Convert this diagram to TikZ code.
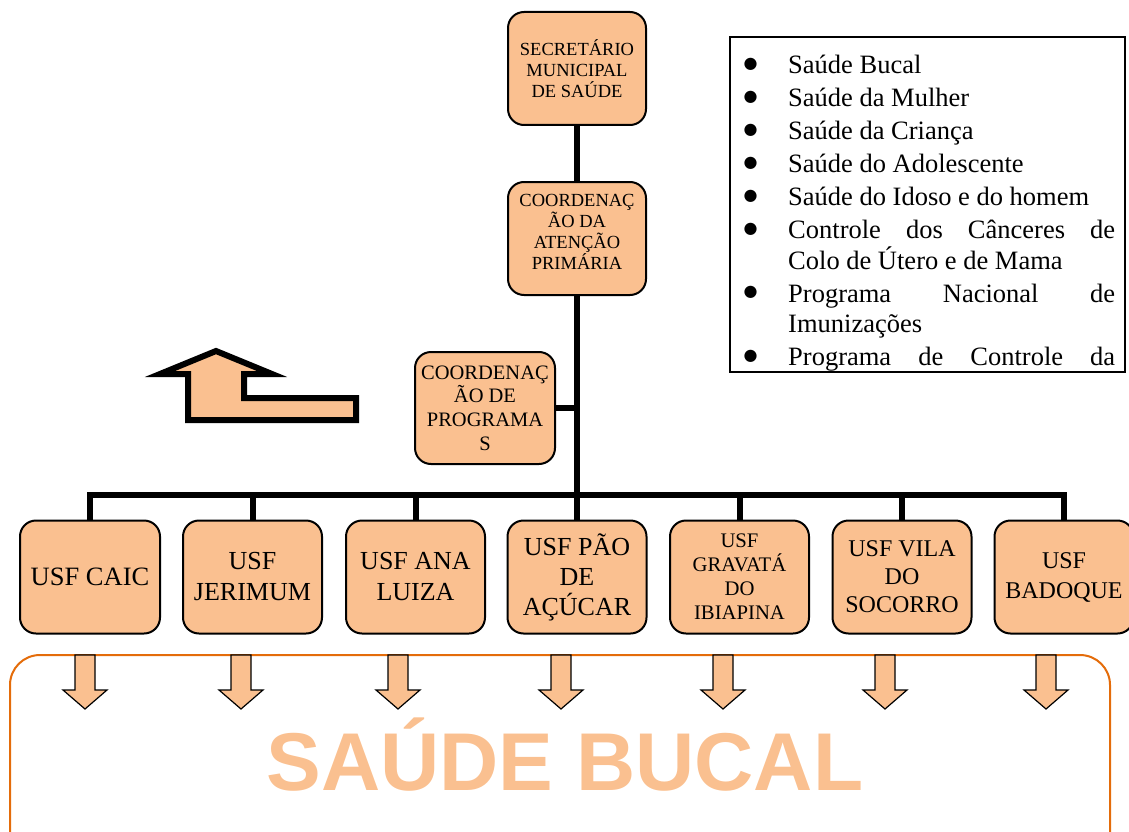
\documentclass[tikz,border=0pt]{standalone}
\usepackage{fontspec}
\setmainfont{Liberation Serif}
\newfontfamily\headfont{Liberation Sans}
\newfontfamily\symfont{DejaVu Sans}
\definecolor{peach}{HTML}{FAC090}
\definecolor{frameorange}{HTML}{E46C0A}
\newcommand\setfs[2]{\fontsize{#1}{#2}\selectfont}
\newcommand\itemdot{\makebox[41pt][l]{\kern-3.5pt\raisebox{5.5pt}{\symfont\fontsize{16}{16}\selectfont ●}}}
\tikzset{
  unitbox/.style={draw=black, line width=2pt, fill=peach, rounded corners=16pt,
    minimum width=138pt, minimum height=113pt, inner sep=1pt, align=center},
  link/.style={line width=6pt},
  downarrow/.style={draw=black, line width=1.2pt, fill=peach, line join=miter},
}
\begin{document}
\begin{tikzpicture}[x=1pt, y=-1pt]
\useasboundingbox (0,0) rectangle (1129,832);

% top of the hierarchy
\node[unitbox, font=\setfs{18.5}{21}] (sec) at (577,68.5)
  {SECRETÁRIO\\MUNICIPAL\\DE SAÚDE};
\node[unitbox] (coord) at (577,238.5) {};
\node[inner sep=0pt, align=center, font=\setfs{18.5}{21}] (coordtext) at ([yshift=7pt]coord.center)
  {COORDENAÇ\\ÃO DA\\ATENÇÃO\\PRIMÁRIA};
\node[unitbox, minimum width=140pt, minimum height=112pt, font=\setfs{20.5}{23.7}] (prog) at (485,408)
  {COORDENAÇ\\ÃO DE\\PROGRAMA\\S};

% family health units
\node[unitbox, minimum width=140pt, font=\setfs{26.5}{31}] (usf1) at (90,577) {USF CAIC};
\node[unitbox, minimum width=139pt, font=\setfs{26}{31}] (usf2) at (252.5,577) {USF\\JERIMUM};
\node[unitbox, minimum width=139pt, font=\setfs{26}{31}] (usf3) at (415.5,577) {USF ANA\\LUIZA};
\node[unitbox, minimum width=139pt, font=\setfs{26}{30}] (usf4) at (577,577) {USF PÃO\\DE\\AÇÚCAR};
\node[unitbox, minimum width=139pt, font=\setfs{20.7}{24}] (usf5) at (739.5,577) {USF\\GRAVATÁ\\DO\\IBIAPINA};
\node[unitbox, minimum width=139pt, font=\setfs{24}{28}] (usf6) at (902,577) {USF VILA\\DO\\SOCORRO};
\node[unitbox, minimum width=139pt, font=\setfs{24}{30}] (usf7) at (1064,577) {USF\\BADOQUE};

% connectors
\coordinate (bus) at (577,495);
\draw[link] (sec.south) -- (coord.north);
\draw[link] (coord.south) -- (bus);
\draw[link] (prog.east) -- (prog.east -| bus);
\draw[link, line cap=rect] (usf1.north |- bus) -- (usf7.north |- bus);
\foreach \i in {1,...,7} \draw[link] (usf\i.north) -- (usf\i.north |- bus);

% bent arrow pointing up
\draw[line width=6pt, fill=peach, line join=miter]
  (216,351) -- (272,374) -- (244,374) -- (244,398) -- (356,398) -- (356,420)
  -- (188,420) -- (188,374) -- (160,374) -- cycle;

% list of programmes
\begin{scope}
  \clip (731,38) rectangle (1124,370);
  \node[anchor=north west, inner sep=0pt, align=left, font=\setfs{26.5}{30.5}] (items) at (747,55) {%
    \itemdot Saúde Bucal\\[2.5pt]
    \itemdot Saúde da Mulher\\[2.5pt]
    \itemdot Saúde da Criança\\[2.5pt]
    \itemdot Saúde do Adolescente\\[2.5pt]
    \itemdot Saúde do Idoso e do homem\\[2.5pt]
    \itemdot\makebox[327pt][s]{Controle dos Cânceres de}\\
    \hspace*{41pt}Colo de Útero e de Mama\\[2.5pt]
    \itemdot\makebox[327pt][s]{Programa Nacional de}\\
    \hspace*{41pt}Imunizações\\[2.5pt]
    \itemdot\makebox[327pt][s]{Programa de Controle da}};
\end{scope}
\draw[line width=2pt] (730,37) rectangle (1125,372);

% oral health frame
\draw[frameorange, line width=2pt, rounded corners=30pt] (10,655) rectangle (1110,880);
\foreach \cx in {85,241,398,561,723,885,1046}
  \draw[downarrow] (\cx-10,655) -- (\cx+10,655) -- (\cx+10,690) -- (\cx+22,690)
    -- (\cx,709) -- (\cx-22,690) -- (\cx-10,690) -- cycle;
\node[anchor=base, inner sep=0pt, text=peach, font=\headfont\bfseries\fontsize{82}{90}\selectfont] (title) at (565,790) {SAÚDE BUCAL};
\end{tikzpicture}
\end{document}
